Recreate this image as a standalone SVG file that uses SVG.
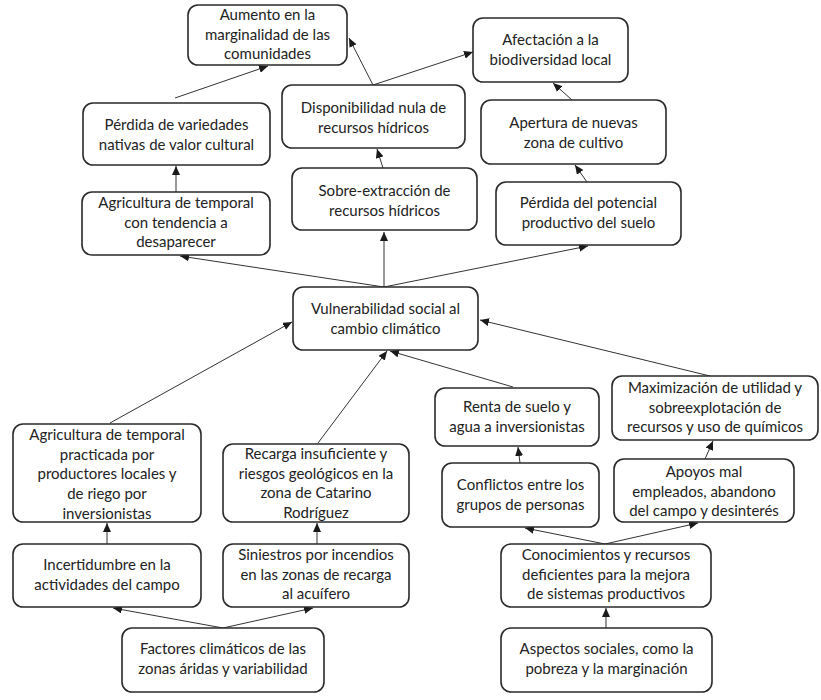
<svg xmlns="http://www.w3.org/2000/svg" width="821" height="700" viewBox="0 0 821 700">
<defs>
<marker id="ah" markerUnits="userSpaceOnUse" markerWidth="10" markerHeight="8" refX="9" refY="4" orient="auto">
<path d="M0,0 L9,4 L0,8 Z" fill="#1a1a1a"/>
</marker>
<style>
.box{fill:#fff;stroke:#2a2a2a;stroke-width:1.6}
.t{font-family:Lato,"Open Sans","Liberation Sans",sans-serif;font-size:15px;fill:#222;text-anchor:middle}
.c line{stroke:#333;stroke-width:1;marker-end:url(#ah)}
</style>
</defs>
<rect width="821" height="700" fill="#fff"/>
<g class="c" id="connectors">
<line x1="384" y1="287" x2="180" y2="256"/>
<line x1="384" y1="287" x2="384" y2="232"/>
<line x1="384" y1="287" x2="588" y2="246"/>
<line x1="176" y1="192" x2="176" y2="166"/>
<line x1="175" y1="98" x2="268" y2="66"/>
<line x1="373" y1="85" x2="349" y2="38"/>
<line x1="373" y1="85" x2="473" y2="52"/>
<line x1="383" y1="168" x2="377" y2="149"/>
<line x1="572" y1="100" x2="553" y2="83"/>
<line x1="587" y1="182" x2="575" y2="165"/>
<line x1="110" y1="423" x2="292" y2="322"/>
<line x1="318" y1="443" x2="387" y2="351"/>
<line x1="513" y1="387" x2="390" y2="351"/>
<line x1="710" y1="376" x2="480" y2="320"/>
<line x1="107" y1="544" x2="107" y2="523"/>
<line x1="317" y1="544" x2="317" y2="523"/>
<line x1="223" y1="628" x2="113" y2="608"/>
<line x1="223" y1="628" x2="313" y2="608"/>
<line x1="520" y1="463" x2="518" y2="447"/>
<line x1="705" y1="459" x2="713" y2="441"/>
<line x1="605" y1="544" x2="525" y2="528"/>
<line x1="605" y1="544" x2="698" y2="523"/>
<line x1="606" y1="628" x2="606" y2="608"/>
</g>
<g id="n1"><rect class="box" x="188" y="5" width="159" height="60" rx="10"/><text class="t" x="267.5" y="20">Aumento en la<tspan x="267.5" dy="19.7">marginalidad de las</tspan><tspan x="267.5" dy="19.7">comunidades</tspan></text></g>
<g id="n2"><rect class="box" x="83" y="103" width="187" height="62" rx="10"/><text class="t" x="176.5" y="130">Pérdida de variedades<tspan x="176.5" dy="19.7">nativas de valor cultural</tspan></text></g>
<g id="n3"><rect class="box" x="82" y="192" width="188" height="63" rx="10"/><text class="t" x="176" y="208">Agricultura de temporal<tspan x="176" dy="19.7">con tendencia a</tspan><tspan x="176" dy="19.7">desaparecer</tspan></text></g>
<g id="n4"><rect class="box" x="282" y="85" width="183" height="63" rx="10"/><text class="t" x="373.5" y="113">Disponibilidad nula de<tspan x="373.5" dy="19.7">recursos hídricos</tspan></text></g>
<g id="n5"><rect class="box" x="292" y="168" width="185" height="62" rx="10"/><text class="t" x="384.5" y="196">Sobre-extracción de<tspan x="384.5" dy="19.7">recursos hídricos</tspan></text></g>
<g id="n6"><rect class="box" x="473" y="18" width="155" height="64" rx="10"/><text class="t" x="550.5" y="45">Afectación a la<tspan x="550.5" dy="19.7">biodiversidad local</tspan></text></g>
<g id="n7"><rect class="box" x="481" y="100" width="185" height="64" rx="10"/><text class="t" x="573.5" y="128">Apertura de nuevas<tspan x="573.5" dy="19.7">zona de cultivo</tspan></text></g>
<g id="n8"><rect class="box" x="496" y="182" width="185" height="63" rx="10"/><text class="t" x="588.5" y="208">Pérdida del potencial<tspan x="588.5" dy="19.7">productivo del suelo</tspan></text></g>
<g id="n9"><rect class="box" x="293" y="287" width="185" height="63" rx="10"/><text class="t" x="385.5" y="314">Vulnerabilidad social al<tspan x="385.5" dy="19.7">cambio climático</tspan></text></g>
<g id="n10"><rect class="box" x="13" y="424" width="188" height="98" rx="10"/><text class="t" x="107" y="440">Agricultura de temporal<tspan x="107" dy="19.7">practicada por</tspan><tspan x="107" dy="19.7">productores locales y</tspan><tspan x="107" dy="19.7">de riego por</tspan><tspan x="107" dy="19.7">inversionistas</tspan></text></g>
<g id="n11"><rect class="box" x="223" y="444" width="186" height="78" rx="10"/><text class="t" x="316" y="459">Recarga insuficiente y<tspan x="316" dy="19.7">riesgos geológicos en la</tspan><tspan x="316" dy="19.7">zona de Catarino</tspan><tspan x="316" dy="19.7">Rodríguez</tspan></text></g>
<g id="n12"><rect class="box" x="13" y="544" width="188" height="63" rx="10"/><text class="t" x="107" y="570">Incertidumbre en la<tspan x="107" dy="19.7">actividades del campo</tspan></text></g>
<g id="n13"><rect class="box" x="223" y="544" width="186" height="63" rx="10"/><text class="t" x="316" y="560">Siniestros por incendios<tspan x="316" dy="19.7">en las zonas de recarga</tspan><tspan x="316" dy="19.7">al acuífero</tspan></text></g>
<g id="n14"><rect class="box" x="122" y="628" width="202" height="64" rx="10"/><text class="t" x="223" y="654">Factores climáticos de las<tspan x="223" dy="19.7">zonas áridas y variabilidad</tspan></text></g>
<g id="n15"><rect class="box" x="435" y="388" width="164" height="58" rx="10"/><text class="t" x="517" y="412">Renta de suelo y<tspan x="517" dy="19.7">agua a inversionistas</tspan></text></g>
<g id="n16"><rect class="box" x="612" y="376" width="206" height="64" rx="10"/><text class="t" x="715" y="393">Maximización de utilidad y<tspan x="715" dy="19.7">sobreexplotación de</tspan><tspan x="715" dy="19.7">recursos y uso de químicos</tspan></text></g>
<g id="n17"><rect class="box" x="442" y="463" width="157" height="64" rx="10"/><text class="t" x="520.5" y="490">Conflictos entre los<tspan x="520.5" dy="19.7">grupos de personas</tspan></text></g>
<g id="n18"><rect class="box" x="614" y="459" width="180" height="63" rx="10"/><text class="t" x="704" y="477">Apoyos mal<tspan x="704" dy="19.7">empleados, abandono</tspan><tspan x="704" dy="19.7">del campo y desinterés</tspan></text></g>
<g id="n19"><rect class="box" x="501" y="544" width="210" height="63" rx="10"/><text class="t" x="606" y="560">Conocimientos y recursos<tspan x="606" dy="19.7">deficientes para la mejora</tspan><tspan x="606" dy="19.7">de sistemas productivos</tspan></text></g>
<g id="n20"><rect class="box" x="501" y="628" width="211" height="64" rx="10"/><text class="t" x="606.5" y="654">Aspectos sociales, como la<tspan x="606.5" dy="19.7">pobreza y la marginación</tspan></text></g>
</svg>
